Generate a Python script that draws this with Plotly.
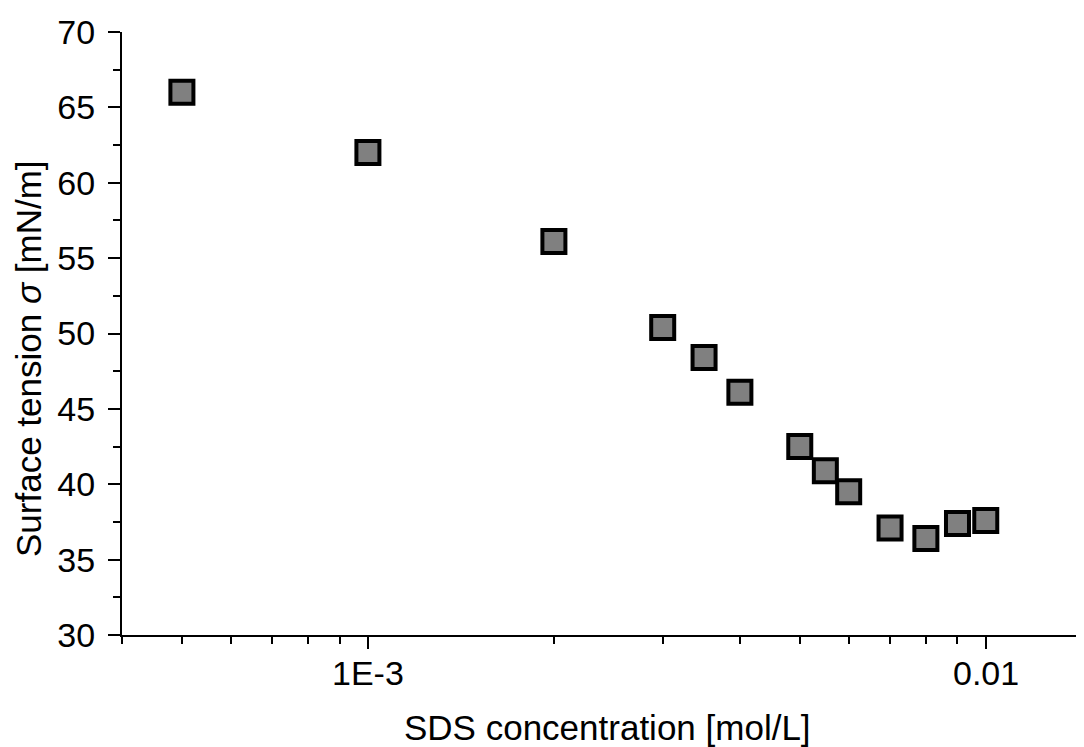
import math
import plotly.graph_objects as go

concentration = [5e-4, 1e-3, 2e-3, 3e-3, 3.5e-3, 4e-3, 5e-3, 5.5e-3, 6e-3, 7e-3, 8e-3, 9e-3, 1e-2]
surface_tension = [66.0, 62.0, 56.1, 50.4, 48.4, 46.1, 42.5, 40.9, 39.5, 37.1, 36.4, 37.4, 37.6]

x_major = [1e-3, 1e-2]
x_major_text = ["1E-3", "0.01"]
x_minor = [4e-4, 5e-4, 6e-4, 7e-4, 8e-4, 9e-4, 2e-3, 3e-3, 4e-3, 5e-3, 6e-3, 7e-3, 8e-3, 9e-3]

x_title = "SDS concentration [mol/L]"
y_title = "Surface tension <i>σ</i> [mN/m]"

font_family = "Liberation Sans, Arial, sans-serif"

fig = go.Figure()
fig.add_trace(go.Scatter(
    x=concentration, y=surface_tension, mode="markers",
    marker=dict(symbol="square", size=23, color="#808080",
                line=dict(color="black", width=4)),
    showlegend=False,
))

# page body has an 8px margin, so the figure is sized to fill the rest of the window
fig.update_layout(
    width=1076, height=739,
    margin=dict(l=114, r=0, t=24, b=112),
    paper_bgcolor="white", plot_bgcolor="white",
    font=dict(family=font_family, size=34, color="black"),
)

fig.update_xaxes(
    type="log", range=[-3.398, -1.841],
    showline=True, linecolor="black", linewidth=2,
    showgrid=False, zeroline=False,
    tickmode="array", tickvals=x_major, ticktext=x_major_text,
    showticklabels=False,
    ticks="outside", ticklen=12, tickwidth=2, tickcolor="black",
    minor=dict(tickmode="array", tickvals=x_minor, ticks="outside",
               ticklen=7, tickwidth=2, tickcolor="black"),
)

# x tick labels placed a little closer to the axis than plotly's default
for val, txt in zip(x_major, x_major_text):
    fig.add_annotation(
        text=txt, xref="x", yref="paper", x=math.log10(val), y=0,
        xanchor="center", yanchor="middle", yshift=-38, showarrow=False,
        font=dict(size=34),
    )

fig.update_yaxes(
    range=[30, 70],
    showline=True, linecolor="black", linewidth=2,
    showgrid=False, zeroline=False,
    tickmode="linear", tick0=30, dtick=5,
    ticks="outside", ticklen=12, tickwidth=2, tickcolor="black",
    minor=dict(dtick=2.5, ticks="outside", ticklen=7, tickwidth=2, tickcolor="black"),
    ticklabelstandoff=6,
)

fig.add_annotation(
    text=x_title, xref="paper", yref="paper", x=0.505, y=0,
    xanchor="center", yanchor="middle", yshift=-92, showarrow=False,
    font=dict(size=35),
)
fig.add_annotation(
    text=y_title, xref="paper", yref="paper", x=0, y=0.4577,
    xanchor="center", yanchor="middle", xshift=-94, textangle=-90,
    showarrow=False, font=dict(size=35),
)

fig.write_html("out.html")
